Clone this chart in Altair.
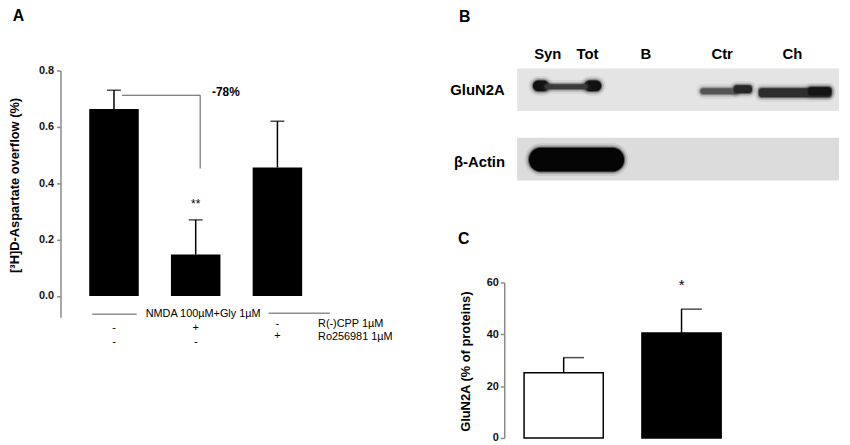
import altair as alt
import pandas as pd

FONT = "Liberation Sans"
OFF = 8  # page margin

# ---------------- Panel A data ----------------
a_cond = ["NMDA", "NMDA+CPP", "NMDA+Ro"]
a_mean = [0.663, 0.147, 0.456]
a_sem = [0.067, 0.123, 0.164]
a_sig = ["", "**", ""]
a_cpp = ["-", "+", "-"]
a_ro = ["-", "-", "+"]
a_ticks = [0.0, 0.2, 0.4, 0.6, 0.8]

# ---------------- Panel C data ----------------
c_group = ["Ctr", "Ch"]
c_mean = [25.2, 40.5]
c_sem = [5.8, 9.2]
c_sig = ["", "*"]
c_fill = ["white", "black"]
c_ticks = [0, 20, 40, 60]

# ---------------- Panel B (blot) ----------------
lane_names = ["Syn", "Tot", "B", "Ctr", "Ch"]
lane_pos = [31, 71, 130, 207, 278]
box_row = ["GluN2A", "β-Actin"]
box_top = [0, 70]
box_bot = [43, 113]
box_fill = ["#e4e4e4", "#dcdcdc"]
band_x0 = [16, 28, 68, 185, 219, 244, 294, 12]
band_x1 = [32, 71, 85, 223, 237, 317, 317, 108]
band_y0 = [12, 16, 12, 20, 17, 20, 19, 80]
band_y1 = [23, 21, 23, 26, 25, 29, 27, 104]
band_col = ["#111111", "#3a3a3a", "#111111", "#555555", "#262626", "#2e2e2e", "#141414", "#050505"]
band_kind = ["blob", "line", "blob", "line", "line", "line", "line", "big"]


def P(v):
    return v - OFF


dfA = pd.DataFrame({"cond": a_cond, "mean": a_mean, "sem": a_sem, "sig": a_sig,
                    "cpp": a_cpp, "ro": a_ro})
dfA["top"] = dfA["mean"] + dfA["sem"]

dfC = pd.DataFrame({"group": c_group, "mean": c_mean, "sem": c_sem, "sig": c_sig, "fill": c_fill})
dfC["top"] = dfC["mean"] + dfC["sem"]

dfL = pd.DataFrame({"lane": lane_names, "pos": lane_pos})
dfBox = pd.DataFrame({"row": box_row, "y0": box_top, "y1": box_bot, "fill": box_fill})
dfBand = pd.DataFrame({"x0": band_x0, "x1": band_x1, "y0": band_y0, "y1": band_y1,
                       "col": band_col, "kind": band_kind})

# ---------------- scales / axes ----------------
xA = alt.Scale(domain=a_cond, range=[P(73.75), P(321.25)], paddingInner=0.394, paddingOuter=0.197)
yA = alt.Scale(domain=[-0.075, 0.8], range=[P(318), P(69)], nice=False, zero=False)
axA = alt.Axis(orient="left", offset=-P(61), values=a_ticks, format=".1f", title=None, grid=False,
               domainColor="#8a8a8a", tickColor="#8a8a8a", domainWidth=1.5, tickWidth=1.5, tickSize=4,
               labelFont=FONT, labelFontSize=11, labelFontWeight="bold", labelColor="#111",
               labelPadding=3)

xC = alt.Scale(domain=c_group, range=[P(509.5), P(747.5)], paddingInner=0.328, paddingOuter=0.164)
yC = alt.Scale(domain=[0, 60], range=[P(440), P(283)], nice=False)
axC = alt.Axis(orient="left", offset=-P(509), values=c_ticks, title=None, grid=False,
               domainColor="#8a8a8a", tickColor="#8a8a8a", domainWidth=1.5, tickWidth=1.5, tickSize=4,
               labelFont=FONT, labelFontSize=11, labelFontWeight="bold", labelColor="#111",
               labelPadding=2)

xB = alt.Scale(domain=[0, 325], range=[P(522), P(847)], nice=False, zero=False)
yB = alt.Scale(domain=[0, 113], range=[P(67), P(180)], nice=False, zero=False)


def label(txt, x, y, **kw):
    kw.setdefault("font", FONT)
    return alt.Chart(alt.Data(values=[{}])).mark_text(text=txt, **kw).encode(
        x=alt.value(P(x)), y=alt.value(P(y)))


# ---------------- Panel A ----------------
baseA = alt.Chart(dfA)
XA = alt.X("cond:N", scale=xA, axis=None)
barsA = baseA.mark_bar(color="black").encode(
    x=XA, y=alt.Y("mean:Q", scale=yA, axis=axA), y2=alt.datum(0))
errA = baseA.mark_rule(color="black", strokeWidth=1.5).encode(
    x=XA, y=alt.Y("mean:Q", scale=yA, axis=axA), y2="top:Q")
capA = baseA.mark_tick(color="black", size=14, thickness=1.5).encode(
    x=XA, y=alt.Y("top:Q", scale=yA, axis=axA))
sigA = baseA.mark_text(font=FONT, fontSize=12, dy=-16, baseline="middle").encode(
    x=XA, y=alt.Y("top:Q", scale=yA, axis=axA), text="sig:N")
row1a = baseA.transform_filter("datum.cond != 'NMDA+Ro'").mark_text(font=FONT, fontSize=11, baseline="middle").encode(
    x=XA, y=alt.value(P(329)), text="cpp:N")
row2a = baseA.transform_filter("datum.cond != 'NMDA+Ro'").mark_text(font=FONT, fontSize=11, baseline="middle").encode(
    x=XA, y=alt.value(P(343)), text="ro:N")
row1b = baseA.transform_filter("datum.cond == 'NMDA+Ro'").mark_text(font=FONT, fontSize=11, baseline="middle").encode(
    x=XA, y=alt.value(P(325)), text="cpp:N")
row2b = baseA.transform_filter("datum.cond == 'NMDA+Ro'").mark_text(font=FONT, fontSize=11, baseline="middle").encode(
    x=XA, y=alt.value(P(337)), text="ro:N")

layerA = alt.layer(barsA, errA, capA, sigA, row1a, row2a, row1b, row2b)

ann = alt.Data(values=[{}])
bracketH = alt.Chart(ann).mark_rule(color="#555", strokeWidth=1).encode(
    x=alt.value(P(123)), x2=alt.value(P(202)), y=alt.value(P(94)))
bracketV = alt.Chart(ann).mark_rule(color="#555", strokeWidth=1).encode(
    x=alt.value(P(202)), y=alt.value(P(94)), y2=alt.value(P(168)))
lineL = alt.Chart(ann).mark_rule(color="#555", strokeWidth=1).encode(
    x=alt.value(P(93)), x2=alt.value(P(138)), y=alt.value(P(315)))
lineR = alt.Chart(ann).mark_rule(color="#555", strokeWidth=1).encode(
    x=alt.value(P(271)), x2=alt.value(P(333)), y=alt.value(P(314)))

textsA = [
    label("A", 18.5, 14, fontSize=16, fontWeight="bold", baseline="middle"),
    label("-78%", 228, 91, fontSize=12, fontWeight="bold", baseline="middle"),
    label("NMDA 100µM+Gly 1µM", 205, 315, fontSize=11, baseline="middle"),
    label("R(-)CPP 1µM", 321, 325, fontSize=11, align="left", baseline="middle"),
    label("Ro256981 1µM", 321, 338, fontSize=11, align="left", baseline="middle"),
    label("[³H]D-Aspartate overflow (%)", 15, 185, fontSize=13, fontWeight="bold", angle=270,
          baseline="middle"),
]

# ---------------- Panel B ----------------
boxes = alt.Chart(dfBox).mark_rect().encode(
    x=alt.X(datum=0, scale=xB, axis=None), x2=alt.datum(325),
    y=alt.Y("y0:Q", scale=yB, axis=None), y2="y1:Q",
    fill=alt.Fill("fill:N", scale=None))


def band_layer(kind, radius, sw, so, fo):
    return alt.Chart(dfBand).transform_filter(f"datum.kind == '{kind}'").mark_rect(
        strokeWidth=sw, strokeOpacity=so, fillOpacity=fo, strokeJoin="round",
        cornerRadius=radius).encode(
        x=alt.X("x0:Q", scale=xB, axis=None), x2="x1:Q",
        y=alt.Y("y0:Q", scale=yB, axis=None), y2="y1:Q",
        fill=alt.Fill("col:N", scale=None), stroke=alt.Stroke("col:N", scale=None))


band_layers = []
for kind, rad in [("blob", 6), ("line", 3), ("big", 12)]:
    band_layers.append(band_layer(kind, rad, 9, 0.08, 0))
    band_layers.append(band_layer(kind, rad, 5, 0.18, 0))
    band_layers.append(band_layer(kind, rad, 2, 0.45, 1))

lanes = alt.Chart(dfL).mark_text(font=FONT, fontSize=15, fontWeight="bold", baseline="middle").encode(
    x=alt.X("pos:Q", scale=xB, axis=None), y=alt.value(P(52)), text="lane:N")
layerB = alt.layer(boxes, *band_layers, lanes)

textsB = [
    label("B", 469, 15, fontSize=16, fontWeight="bold", baseline="middle"),
    label("GluN2A", 482, 89, fontSize=15, fontWeight="bold", baseline="middle"),
    label("β-Actin", 484, 161, fontSize=15, fontWeight="bold", baseline="middle"),
]

# ---------------- Panel C ----------------
baseC = alt.Chart(dfC)
XC = alt.X("group:N", scale=xC, axis=None)
barsC = baseC.mark_bar(stroke="black", strokeWidth=1.5).encode(
    x=XC, y=alt.Y("mean:Q", scale=yC, axis=axC), y2=alt.datum(0),
    fill=alt.Fill("fill:N", scale=None))
errC = baseC.mark_rule(color="black", strokeWidth=1.5).encode(
    x=XC, y=alt.Y("mean:Q", scale=yC, axis=axC), y2="top:Q")
capC = baseC.mark_tick(color="black", size=21, thickness=1.5, xOffset=10).encode(
    x=XC, y=alt.Y("top:Q", scale=yC, axis=axC))
sigC = baseC.mark_text(font=FONT, fontSize=15, dy=-24, baseline="middle").encode(
    x=XC, y=alt.Y("top:Q", scale=yC, axis=axC), text="sig:N")
layerC = alt.layer(barsC, errC, capC, sigC)

textsC = [
    label("C", 468, 239, fontSize=16, fontWeight="bold", baseline="middle"),
    label("GluN2A (% of proteins)", 470, 363, fontSize=13, fontWeight="bold", angle=270,
          baseline="middle"),
]

chart = alt.layer(
    layerA, bracketH, bracketV, lineL, lineR, *textsA,
    layerB, *textsB,
    layerC, *textsC,
).resolve_scale(x="independent", y="independent").properties(
    width=842, height=437, autosize="none", padding=0, background="white"
).configure_view(strokeWidth=0, strokeOpacity=0)

chart.save("out.html", embed_options={"renderer": "svg", "actions": False})
